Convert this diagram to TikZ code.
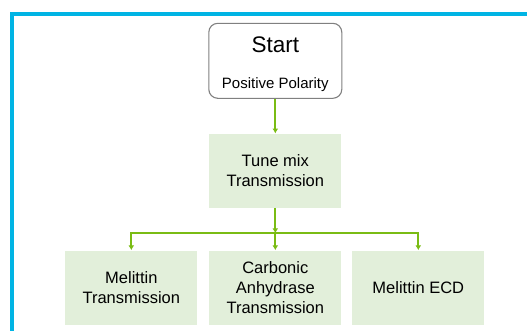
\documentclass[tikz,border=0pt]{standalone}
\usepackage{fontspec}
\setmainfont{Liberation Sans}
\usepackage{tikz}
\usetikzlibrary{positioning,calc,arrows,arrows.meta,shapes}

\definecolor{framebl}{RGB}{0,180,228}
\definecolor{flowgr}{RGB}{122,188,20}
\definecolor{boxgr}{RGB}{226,239,218}
\definecolor{edgegy}{RGB}{128,128,128}

\tikzset{
    stepbox/.style={fill=boxgr,minimum width=132pt,minimum height=74pt,inner sep=0pt,align=center,
        font=\fontsize{16.5}{20}\selectfont},
    startbox/.style={draw=edgegy,line width=1.1pt,rounded corners=9pt,minimum width=133pt,minimum height=75pt},
    flow/.style={draw=flowgr,line width=1.9pt,-{Latex[length=5pt,width=6pt]}}
}

\begin{document}
\begin{tikzpicture}[x=1pt,y=-1pt]
        \useasboundingbox (0,0) rectangle (527,330);
        % outer frame
        \draw[framebl,line width=3.6pt] (12,332) -- (12,14) -- (529,14);

        \node[startbox] (start) at (275.3,60.8) {};
        \node[anchor=base,font=\fontsize{22.5}{26}\selectfont] (startlbl) at (275.3,52.3) {Start};
        \node[anchor=base,font=\fontsize{15}{18}\selectfont] (polarity) at (275.3,88) {Positive Polarity};

        \node[stepbox] (tune) at (275.3,170.7) {Tune mix\\Transmission};

        \foreach \name/\xpos/\txt in {melittin/131.3/{Melittin\\Transmission}, carbonic/275.3/{Carbonic\\Anhydrase\\Transmission}, ecd/418.3/{Melittin ECD}} {
            \node[stepbox] (\name) at (\xpos,287.5) {\txt};
        }

        \coordinate (split) at (275.3,233.3);
        \draw[flow] (start) -- (tune);
        \draw[flow] (tune) -- (split);
        \draw[flow] (split) -- (carbonic);
        \draw[flow] (split) -| (melittin);
        \draw[flow] (split) -| (ecd);
  \end{tikzpicture}
\end{document}
